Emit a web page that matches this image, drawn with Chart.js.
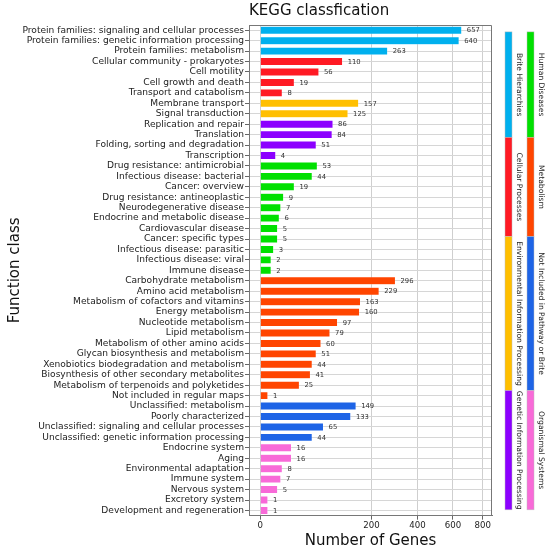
<!DOCTYPE html>
<html>
<head>
<meta charset="utf-8">
<script src="https://cdn.jsdelivr.net/npm/chart.js"></script>
<style>
  html, body { margin: 0; padding: 0; background: #fff; }
  #kegg { display: block; }
</style>
</head>
<body>
<canvas id="kegg" width="550" height="552"></canvas>
<script>
// KEGG function classes, top to bottom
const categories = [
  'Protein families: signaling and cellular processes',
  'Protein families: genetic information processing',
  'Protein families: metabolism',
  'Cellular community - prokaryotes',
  'Cell motility',
  'Cell growth and death',
  'Transport and catabolism',
  'Membrane transport',
  'Signal transduction',
  'Replication and repair',
  'Translation',
  'Folding, sorting and degradation',
  'Transcription',
  'Drug resistance: antimicrobial',
  'Infectious disease: bacterial',
  'Cancer: overview',
  'Drug resistance: antineoplastic',
  'Neurodegenerative disease',
  'Endocrine and metabolic disease',
  'Cardiovascular disease',
  'Cancer: specific types',
  'Infectious disease: parasitic',
  'Infectious disease: viral',
  'Immune disease',
  'Carbohydrate metabolism',
  'Amino acid metabolism',
  'Metabolism of cofactors and vitamins',
  'Energy metabolism',
  'Nucleotide metabolism',
  'Lipid metabolism',
  'Metabolism of other amino acids',
  'Glycan biosynthesis and metabolism',
  'Xenobiotics biodegradation and metabolism',
  'Biosynthesis of other secondary metabolites',
  'Metabolism of terpenoids and polyketides',
  'Not included in regular maps',
  'Unclassified: metabolism',
  'Poorly characterized',
  'Unclassified: signaling and cellular processes',
  'Unclassified: genetic information processing',
  'Endocrine system',
  'Aging',
  'Environmental adaptation',
  'Immune system',
  'Nervous system',
  'Excretory system',
  'Development and regeneration'
];

const geneCounts = [
  657, 640, 263,
  110, 56, 19, 8,
  157, 125,
  86, 84, 51, 4,
  53, 44, 19, 9, 7, 6, 5, 5, 3, 2, 2,
  296, 229, 163, 160, 97, 79, 60, 51, 44, 41, 25, 1,
  149, 133, 65, 44,
  16, 16, 8, 7, 5, 1, 1
];

// which level-1 group each class belongs to (index into groupNames)
const categoryGroup = [
  0, 0, 0,
  1, 1, 1, 1,
  2, 2,
  3, 3, 3, 3,
  4, 4, 4, 4, 4, 4, 4, 4, 4, 4, 4,
  5, 5, 5, 5, 5, 5, 5, 5, 5, 5, 5, 5,
  6, 6, 6, 6,
  7, 7, 7, 7, 7, 7, 7
];

const groupNames = [
  'Brite Hierarchies',
  'Cellular Processes',
  'Environmental Information Processing',
  'Genetic Information Processing',
  'Human Diseases',
  'Metabolism',
  'Not Included in Pathway or Brite',
  'Organismal Systems'
];

const groupColors = [
  '#00b0ee', '#ff1a24', '#ffbf00', '#8c00ff',
  '#00e000', '#ff4500', '#1e64e6', '#f86ad8'
];

const xTicks = [0, 200, 400, 600, 800];

// side key: two columns, four groups each, split points as share of plot height
const keyColumns = [[0, 1, 2, 3], [4, 5, 6, 7]];
const keySplits = [0.014, 0.229, 0.431, 0.745, 0.988];

const FONT = "'DejaVu Sans', sans-serif";

// square-root value axis
class SqrtScale extends Chart.LinearScale {
  configure() {
    super.configure();
    this._sLo = sq(this.min);
    this._sHi = sq(this.max);
  }
  getPixelForValue(value) {
    return this.getPixelForDecimal((sq(value) - this._sLo) / (this._sHi - this._sLo));
  }
  getValueForPixel(pixel) {
    const s = this._sLo + this.getDecimalForPixel(pixel) * (this._sHi - this._sLo);
    return Math.sign(s) * s * s;
  }
}
SqrtScale.id = 'sqrt';
SqrtScale.defaults = {};
function sq(v) { return Math.sign(v) * Math.sqrt(Math.abs(v)); }
Chart.register(SqrtScale);

// numbers at the end of each bar
const valueLabels = {
  id: 'valueLabels',
  afterDatasetsDraw(chart) {
    const ctx = chart.ctx;
    const meta = chart.getDatasetMeta(0);
    ctx.save();
    ctx.font = '6.8px ' + FONT;
    ctx.fillStyle = '#333';
    ctx.textBaseline = 'middle';
    meta.data.forEach((bar, i) => {
      ctx.fillText(String(geneCounts[i]), bar.x + 5, bar.y + 0.5);
    });
    ctx.restore();
  }
};

// top and right edges of the frame
const frame = {
  id: 'frame',
  afterDraw(chart) {
    const { ctx, chartArea: a } = chart;
    ctx.save();
    ctx.strokeStyle = '#777';
    ctx.lineWidth = 1;
    ctx.beginPath();
    ctx.moveTo(a.left, a.top + 0.5);
    ctx.lineTo(a.right - 0.5, a.top + 0.5);
    ctx.lineTo(a.right - 0.5, a.bottom);
    ctx.stroke();
    ctx.restore();
  }
};

// coloured group key on the right side
const groupKey = {
  id: 'groupKey',
  afterDraw(chart) {
    const { ctx, chartArea: a } = chart;
    const h = a.bottom - a.top;
    ctx.save();
    ctx.font = '7.6px ' + FONT;
    ctx.fillStyle = '#222';
    keyColumns.forEach((groups, c) => {
      const x = a.right + 13 + c * 22;
      groups.forEach((g, k) => {
        const y0 = a.top + keySplits[k] * h;
        const y1 = a.top + keySplits[k + 1] * h;
        ctx.fillStyle = groupColors[g];
        ctx.fillRect(x, y0, 7, y1 - y0);
        ctx.strokeStyle = 'rgba(190,190,190,0.8)';
        ctx.lineWidth = 0.6;
        ctx.strokeRect(x, y0, 7, y1 - y0);
        ctx.save();
        ctx.translate(x + 14, (y0 + y1) / 2);
        ctx.rotate(Math.PI / 2);
        ctx.fillStyle = '#222';
        ctx.textAlign = 'center';
        ctx.textBaseline = 'middle';
        ctx.fillText(groupNames[g], 0, 0);
        ctx.restore();
      });
    });
    ctx.restore();
  }
};

new Chart(document.getElementById('kegg'), {
  type: 'bar',
  data: {
    labels: categories,
    datasets: [{
      data: geneCounts,
      backgroundColor: categoryGroup.map(g => groupColors[g]),
      borderColor: 'rgba(255,255,255,0.5)',
      borderWidth: 0.6,
      barPercentage: 0.78,
      categoryPercentage: 1
    }]
  },
  options: {
    indexAxis: 'y',
    responsive: false,
    animation: false,
    layout: { padding: { left: 6, right: 58, top: 0, bottom: 2 } },
    plugins: {
      legend: { display: false },
      tooltip: { enabled: false },
      title: {
        display: true,
        text: 'KEGG classfication',
        align: 'start',
        fullSize: false,
        color: '#111',
        font: { family: FONT, size: 15, weight: 'normal' },
        padding: { top: 2, bottom: 5 }
      }
    },
    scales: {
      x: {
        type: 'sqrt',
        min: -2,
        max: 868,
        bounds: 'data',
        afterBuildTicks: axis => { axis.ticks = xTicks.map(v => ({ value: v })); },
        grid: { color: '#cfcfcf', tickColor: '#666', tickLength: 4 },
        border: { display: true, color: '#777', width: 1 },
        ticks: { color: '#222', padding: 1, font: { family: FONT, size: 8.6 } },
        title: {
          display: true,
          text: 'Number of Genes',
          color: '#111',
          font: { family: FONT, size: 15 },
          padding: { top: 0, bottom: 0 }
        }
      },
      y: {
        grid: { offset: false, color: '#d6d6d6', tickColor: '#666', tickLength: 4 },
        border: { display: true, color: '#777', width: 1 },
        ticks: { color: '#222', padding: 1, autoSkip: false, font: { family: FONT, size: 9.1 } },
        title: {
          display: true,
          text: 'Function class',
          color: '#111',
          font: { family: FONT, size: 15 },
          padding: { top: 0, bottom: 2 }
        }
      }
    }
  },
  plugins: [valueLabels, frame, groupKey]
});
</script>
</body>
</html>
